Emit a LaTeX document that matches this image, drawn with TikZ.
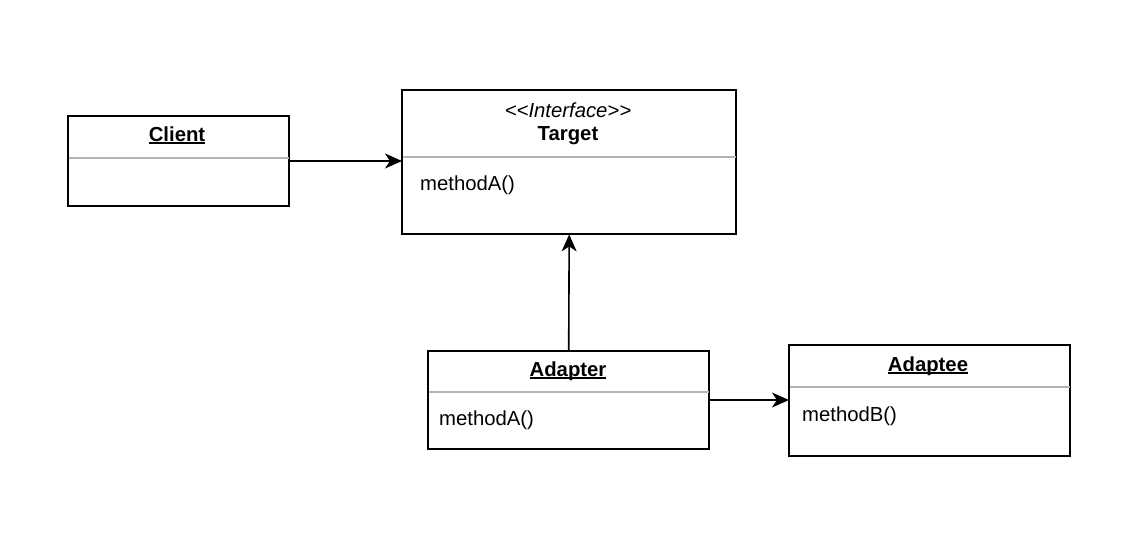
\documentclass[tikz,border=0pt]{standalone}
\usepackage{fontspec}
\setmainfont{Liberation Sans}
\usetikzlibrary{arrows.meta,calc}
\tikzset{
  box/.style={draw=black, line width=1.4pt, anchor=north west, inner sep=0pt, fill=white},
  sep/.style={draw={rgb,255:red,179;green,179;blue,179}, line width=1.5pt},
  title/.style={font=\fontsize{20.3}{23}\selectfont\bfseries, inner sep=0pt},
  stereo/.style={font=\fontsize{20.3}{23}\selectfont\itshape, inner sep=0pt},
  member/.style={font=\fontsize{20.3}{23}\selectfont, anchor=west, inner sep=0pt},
  conn/.style={draw=black, line width=1.6pt, -{Stealth[length=17pt,width=15pt,inset=5pt]}}
}
\newcommand{\ul}[1]{{\setbox0\hbox{#1}\rlap{\rule[-2.4pt]{\wd0}{1.3pt}}\box0}}
\begin{document}
\begin{tikzpicture}[x=1pt,y=-1pt]
\useasboundingbox (0,0) rectangle (1130,547);
\fill[white] (0,0) rectangle (1130,547);
% boxes
\node[box, minimum width=220pt, minimum height=89pt] (client) at (68,116) {};
\node[box, minimum width=333pt, minimum height=143pt] (target) at (402,90) {};
\node[box, minimum width=280pt, minimum height=97pt] (adapter) at (428,351) {};
\node[box, minimum width=280pt, minimum height=110pt] (adaptee) at (789,345) {};
% separators
\draw[sep] ([yshift=-42pt]client.north west) -- ([yshift=-42pt]client.north east);
\draw[sep] ([yshift=-67pt]target.north west) -- ([yshift=-67pt]target.north east);
\draw[sep] ([yshift=-41pt]adapter.north west) -- ([yshift=-41pt]adapter.north east);
\draw[sep] ([yshift=-42pt]adaptee.north west) -- ([yshift=-42pt]adaptee.north east);
% redraw borders on top of separators
\draw[line width=1.4pt] (client.north west) rectangle (client.south east);
\draw[line width=1.4pt] (target.north west) rectangle (target.south east);
\draw[line width=1.4pt] (adapter.north west) rectangle (adapter.south east);
\draw[line width=1.4pt] (adaptee.north west) rectangle (adaptee.south east);
% texts
\node[title] (clientname) at (177,135) {\ul{Client}};
\node[stereo] (targetstereo) at (568,110) {<\kern0pt<Interface>\kern0pt>};
\node[title] (targetname) at (568,136) {Target};
\node[member] (targetm) at (420,185) {methodA()};
\node[title] (adaptername) at (568,371) {\ul{Adapter}};
\node[member] (adapterm) at (439,420) {methodA()};
\node[title] (adapteename) at (928,366) {\ul{Adaptee}};
\node[member] (adapteem) at (802,416) {methodB()};
% connectors
\draw[conn] (client.east |- 0,161) -- (target.west |- 0,161);
\draw[conn] (adapter.north) -- (target.south);
\draw[conn] (adapter.east |- 0,400) -- (adaptee.west |- 0,400);
\end{tikzpicture}
\end{document}
